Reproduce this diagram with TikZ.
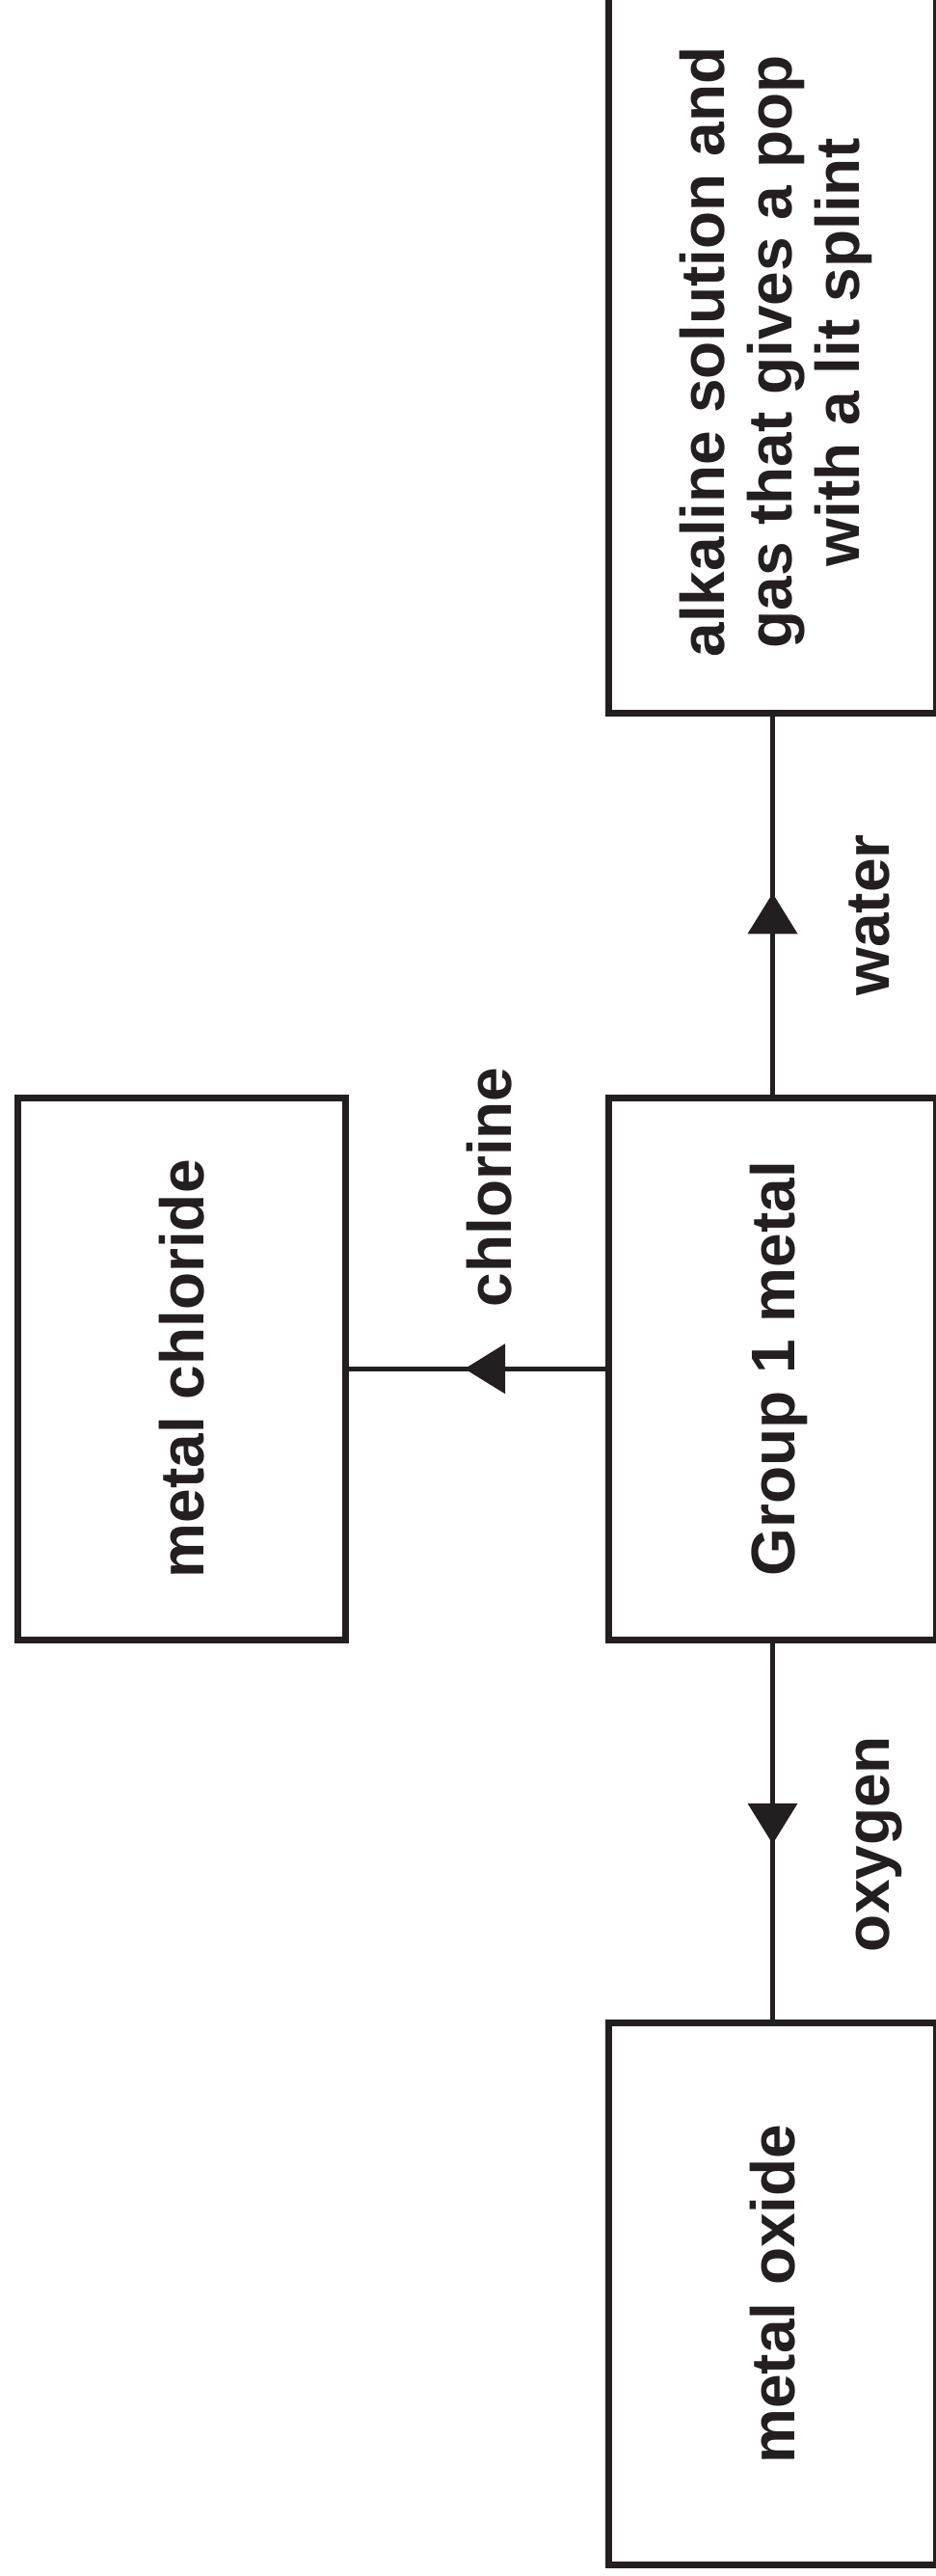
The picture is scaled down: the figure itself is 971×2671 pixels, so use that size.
\documentclass[tikz,border=0pt]{standalone}
\usepackage{fontspec}
\setmainfont{Liberation Sans}
\usetikzlibrary{decorations.markings}
\definecolor{ink}{HTML}{231F20}
% text whose cap height (not its ascenders/descenders) is centred, turned to read upwards
\newcommand\uptext[1]{\rotatebox{90}{\smash{#1}\rule{0pt}{13.75pt}}}
\tikzset{
  labelfont/.style={font=\bfseries\fontsize{19.2}{21}\selectfont, text=ink},
  box/.style={draw=ink, line width=2.1pt, minimum width=102pt,
    minimum height=168.45pt, inner sep=0pt, labelfont},
  flow/.style={draw=ink, line width=1.35pt, postaction={decorate},
    decoration={markings, mark=at position 0.5 with
      {\fill[ink] (3.9pt,0pt) -- (-8.7pt,7.8pt) -- (-8.7pt,-7.8pt) -- cycle;}}},
  reagent/.style={rotate=90, inner sep=0pt, text height=13.75pt, text depth=0pt, labelfont}
}
\begin{document}
\begin{tikzpicture}[x=0.3pt, y=-0.3pt]
  \useasboundingbox (0,0) rectangle (971,2671);
  \clip (0,0) rectangle (971,2671);

  % products and starting metal
  \node[box, minimum height=225pt] (water product) at (801.5,365)
    {\uptext{\begin{tabular}{@{}c@{}}alkaline solution and\\gas that gives a pop\\with a lit splint\end{tabular}}};
  \node[box] (metal) at (801.5,1419.25) {\uptext{Group 1 metal}};
  \node[box] (chloride) at (188.5,1419.25) {\uptext{metal chloride}};
  \node[box] (oxide) at (801.5,2378.5) {\uptext{metal oxide}};

  % reactions
  \draw[flow] (metal.north) -- (water product.south);
  \draw[flow] (metal.west) -- (chloride.east);
  \draw[flow] (metal.south) -- (oxide.north);

  % reagents
  \node[reagent] (water) at (900,949) {water};
  \node[reagent] (chlorine) at (508,1231) {chlorine};
  \node[reagent] (oxygen) at (900,1912) {oxygen};
\end{tikzpicture}
\end{document}
